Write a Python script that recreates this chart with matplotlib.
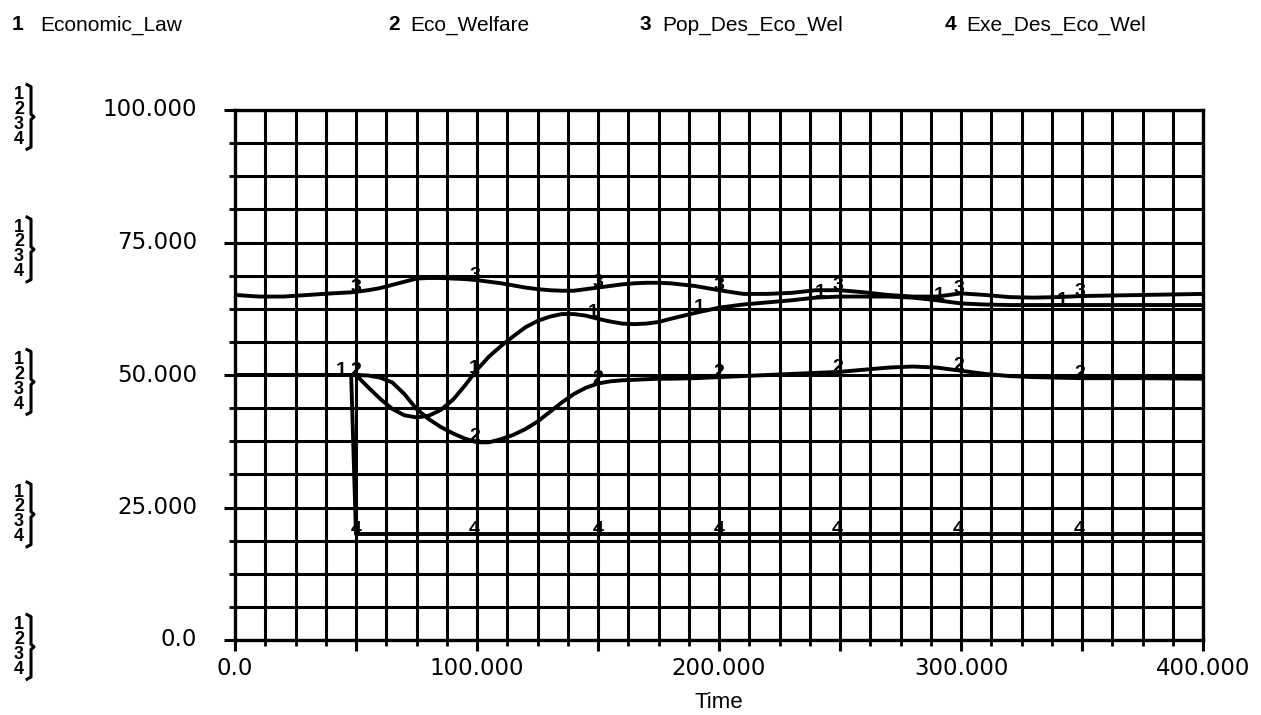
import numpy as np
import matplotlib
matplotlib.use('Agg')
import matplotlib.pyplot as plt
from matplotlib.transforms import blended_transform_factory

# series names as in the legend at the top
NOMES = ['Economic_Law', 'Eco_Welfare', 'Pop_Des_Eco_Wel', 'Exe_Des_Eco_Wel']

# shared time axis for series 1-3
tempo = [0, 10, 20, 30, 40, 48, 50, 55, 60, 65, 70, 75, 80, 85, 90, 95,
         100, 105, 110, 115, 120, 125, 130, 135, 140, 145, 150, 155, 160, 165, 170, 175, 180,
         190, 200, 210, 220, 230, 240, 250, 260, 270, 280, 290, 300, 310, 320, 330, 340, 350,
         375, 400]

economic_law = [50, 50, 50, 50, 50, 50, 50, 47.7, 45.5, 43.6, 42.4, 42.0, 42.3, 43.4, 45.3, 48.0,
                51.0, 53.5, 55.5, 57.3, 59.0, 60.2, 61.0, 61.5, 61.5, 61.2, 60.6, 60.1, 59.7, 59.6, 59.7, 60.0, 60.6,
                61.7, 62.7, 63.3, 63.7, 64.1, 64.6, 64.8, 64.8, 64.8, 64.6, 64.1, 63.5, 63.3, 63.2, 63.2, 63.2, 63.2,
                63.2, 63.2]

eco_welfare = [50, 50, 50, 50, 50, 50, 50, 49.9, 49.5, 48.6, 46.4, 43.6, 41.7, 40.2, 39.0, 38.0,
               37.3, 37.3, 37.9, 38.7, 39.8, 41.2, 43.0, 44.8, 46.4, 47.6, 48.4, 48.8, 49.0, 49.1, 49.2, 49.3, 49.3,
               49.4, 49.6, 49.8, 50.0, 50.2, 50.4, 50.6, 51.0, 51.4, 51.6, 51.4, 50.8, 50.2, 49.8, 49.6, 49.5, 49.4,
               49.4, 49.3]

pop_des = [65.1, 64.8, 64.8, 65.1, 65.4, 65.6, 65.7, 66.0, 66.4, 67.0, 67.6, 68.2, 68.3, 68.3, 68.2, 68.1,
           67.9, 67.6, 67.3, 66.9, 66.5, 66.2, 66.0, 65.9, 65.9, 66.2, 66.5, 66.8, 67.1, 67.3, 67.4, 67.4, 67.3,
           66.8, 66.0, 65.3, 65.3, 65.5, 66.0, 66.0, 65.6, 65.1, 64.8, 64.8, 65.4, 65.1, 64.7, 64.6, 64.7, 64.9,
           65.1, 65.3]

# series 4 has its own (step) time axis
tempo_exe = [0, 48, 50, 400]
exe_des = [50, 50, 20, 20]

# where the curve numbers are printed
rotulos_t = [
    [44, 99, 148, 192, 242, 291, 342],
    [50, 99, 150, 200, 249, 299, 349],
    [50, 99, 150, 200, 249, 299, 349],
    [50, 99, 150, 200, 249, 299, 349],
]

x_ticks = [0, 50, 100, 150, 200, 250, 300, 350, 400]
x_labels = ['0.0', '', '100.000', '', '200.000', '', '300.000', '', '400.000']
y_ticks = [0, 25, 50, 75, 100]
y_labels = ['0.0', '25.000', '50.000', '75.000', '100.000']


def main():
    W, H = 1261, 715
    fig = plt.figure(figsize=(W / 100, H / 100), dpi=100)
    ax = fig.add_axes([235 / W, 1 - 640 / H, (1203 - 235) / W, (640 - 110) / H])

    ax.set_xlim(0, 400)
    ax.set_ylim(0, 100)

    # grid (every 12.5 in x, 6.25 in y)
    ax.set_xticks(np.arange(0, 400.1, 12.5), minor=True)
    ax.set_yticks(np.arange(0, 100.1, 6.25), minor=True)
    ax.set_xticks(x_ticks)
    ax.set_xticklabels(x_labels)
    ax.set_yticks(y_ticks)
    ax.set_yticklabels([])
    ax.grid(True, which='both', color='black', linewidth=2.2, zorder=1)
    ax.set_axisbelow(True)
    for s in ax.spines.values():
        s.set_linewidth(2.4)
        s.set_color('black')
    ax.tick_params(which='major', direction='out', length=8, width=2.2, color='black',
                   labelsize=16.5, pad=4)
    ax.tick_params(which='minor', direction='out', length=4, width=2, color='black')
    for lbl in ax.get_xticklabels():
        lbl.set_fontfamily('DejaVu Sans')

    tr = blended_transform_factory(fig.transFigure, ax.transData)

    # y values written at a fixed place left of the axis
    for v, txt in zip(y_ticks, y_labels):
        ax.text(197 / W, v, txt, transform=tr, fontsize=16.5, family='DejaVu Sans',
                ha='right', va='center', clip_on=False)

    # curves
    series = [(tempo, economic_law), (tempo, eco_welfare), (tempo, pop_des), (tempo_exe, exe_des)]
    for i, (tx, ty) in enumerate(series):
        ax.plot(tx, ty, color='black', linewidth=2.8, zorder=3, solid_joinstyle='round')
        for t in rotulos_t[i]:
            v = np.interp(t, tx, ty)
            ax.text(t, v + 0.9, str(i + 1), fontsize=14, fontweight='bold', ha='center', va='center',
                    family='Liberation Sans', zorder=4)

    fig.text((235 + 1203) / 2 / W, 1 - 703 / H, 'Time', fontsize=16, family='Liberation Sans',
             ha='center', va='center')

    # legend at the top
    leg_num_x = [12, 388, 640, 945]
    leg_txt_x = [40, 410, 662, 966]
    for i, nome in enumerate(NOMES):
        fig.text(leg_num_x[i] / W, 1 - 25 / H, str(i + 1), fontsize=15, fontweight='bold',
                 family='Liberation Sans', va='center')
        fig.text(leg_txt_x[i] / W, 1 - 25 / H, nome, fontsize=15,
                 family='Liberation Sans', va='center')

    # stacked 1-4 with braces at the left of every labelled y value
    for v in y_ticks:
        c = v - 1.3
        for k, off in enumerate([4.2, 1.4, -1.4, -4.2]):
            ax.text(19 / W, c + off, str(k + 1), transform=tr, fontsize=13, fontweight='bold',
                    ha='center', va='center', family='Liberation Sans', clip_on=False)
        x0, x1, x2 = 27 / W, 31 / W, 34 / W
        top, bot = c + 5.7, c - 5.7
        ax.plot([x0, x1, x1, x2, x1, x1, x0], [top + 0.4, top, c + 0.5, c, c - 0.5, bot, bot - 0.4],
                transform=tr, color='black', linewidth=2.2, clip_on=False)

    fig.savefig('out.png', dpi=100, facecolor='white')


if __name__ == '__main__':
    main()
